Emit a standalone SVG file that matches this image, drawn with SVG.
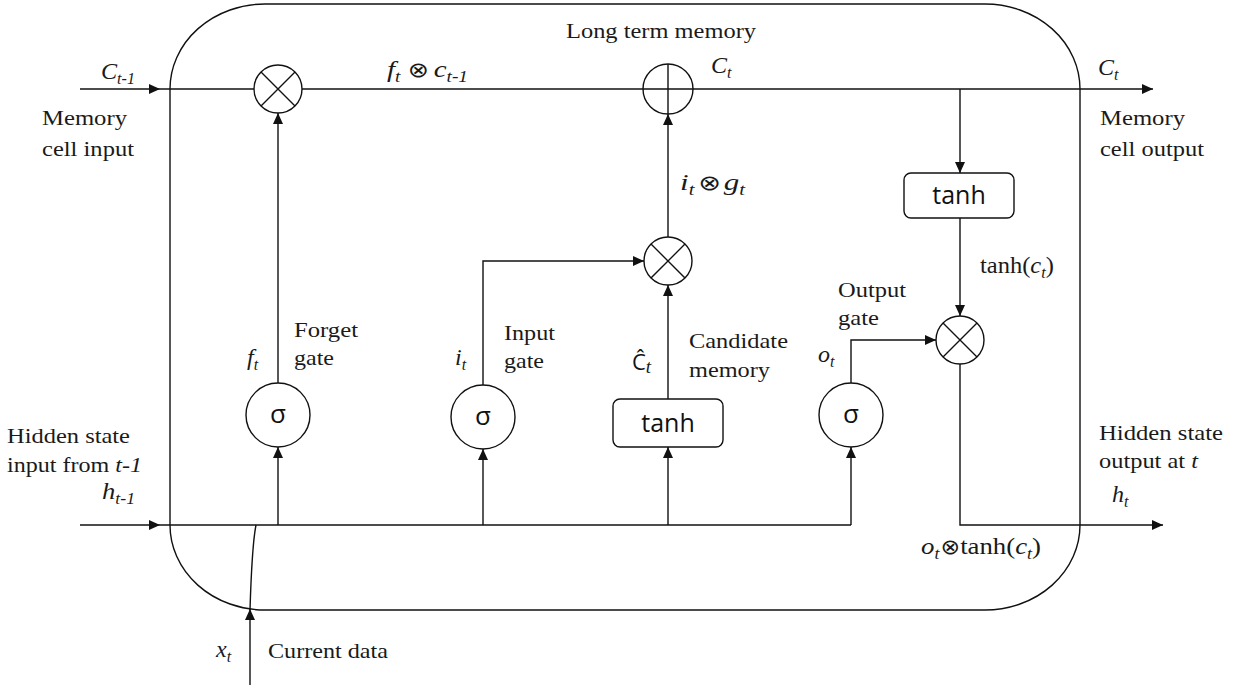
<svg xmlns="http://www.w3.org/2000/svg" width="1234" height="685" viewBox="0 0 1234 685">
<defs>
<marker id="ah" markerUnits="userSpaceOnUse" markerWidth="12" markerHeight="10" refX="11" refY="5" orient="auto">
<path d="M0,0 L11,5 L0,10 Z" fill="#111"/>
</marker>
<style>
.ln{fill:none;stroke:#111;stroke-width:1.4}
.ar{fill:none;stroke:#111;stroke-width:1.4;marker-end:url(#ah)}
.nd{fill:#fff;stroke:#111;stroke-width:1.4}
.w{font-family:"Liberation Serif",serif;font-size:22px;fill:#1a1a1a}
.mi{font-family:"Liberation Serif",serif;font-style:italic;font-size:24px;fill:#1a1a1a}
.up{font-style:normal}
.sub{font-size:16px}
.op{font-family:"DejaVu Sans",sans-serif;font-style:normal;font-size:21px}
.sans{font-family:"Open Sans",sans-serif;fill:#111}
</style>
</defs>
<rect width="1234" height="685" fill="#fff"/>
<g id="cell"><rect x="170" y="4" width="910" height="606" rx="95" ry="85" class="ln"/></g>

<g id="connectors">
<path class="ar" d="M80,89 H160"/>
<path class="ln" d="M160,89 H254"/>
<path class="ln" d="M302,89 H643"/>
<path class="ar" d="M693,89 H1153"/>
<path class="ar" d="M960,89 V173"/>
<path class="ar" d="M960,218 V316"/>
<path class="ar" d="M80,525 H160"/>
<path class="ln" d="M160,525 H851"/>
<path class="ar" d="M278,525 V447"/>
<path class="ar" d="M278,383 V113"/>
<path class="ar" d="M483,525 V449"/>
<path class="ar" d="M483,385 V261 H644"/>
<path class="ar" d="M668,525 V447"/>
<path class="ar" d="M668,399 V285"/>
<path class="ar" d="M668,237 V114"/>
<path class="ar" d="M851,525 V447"/>
<path class="ar" d="M851,383 V340 H936"/>
<path class="ar" d="M960,364 V525 H1163"/>
<path class="ar" d="M250,685 V609"/>
<path class="ln" d="M250,610 Q252,545 256,525"/>
</g>

<g id="mult-forget">
<circle cx="278" cy="89" r="24" class="nd"/>
<path class="ln" d="M261,72 L295,106 M295,72 L261,106"/>
</g>
<g id="add-memory">
<circle cx="668" cy="89" r="25" class="nd"/>
<path class="ln" d="M668,64 V114 M643,89 H693"/>
</g>
<g id="mult-input">
<circle cx="668" cy="261" r="24" class="nd"/>
<path class="ln" d="M651,244 L685,278 M685,244 L651,278"/>
</g>
<g id="mult-output">
<circle cx="960" cy="340" r="24" class="nd"/>
<path class="ln" d="M943,323 L977,357 M977,323 L943,357"/>
</g>
<g id="tanh-out">
<rect x="904" y="173" width="110" height="45" rx="7" class="nd"/>
<text x="959" y="204" class="sans" font-size="25" text-anchor="middle">tanh</text>
</g>
<g id="tanh-cand">
<rect x="613" y="399" width="110" height="48" rx="7" class="nd"/>
<text x="668" y="432" class="sans" font-size="25" text-anchor="middle">tanh</text>
</g>
<g id="sigma-forget">
<circle cx="278" cy="415" r="32" class="nd"/>
<text x="278" y="423" class="sans" font-size="26" text-anchor="middle">σ</text>
</g>
<g id="sigma-input">
<circle cx="483" cy="417" r="32" class="nd"/>
<text x="483" y="425" class="sans" font-size="26" text-anchor="middle">σ</text>
</g>
<g id="sigma-output">
<circle cx="851" cy="415" r="32" class="nd"/>
<text x="851" y="423" class="sans" font-size="26" text-anchor="middle">σ</text>
</g>

<g id="labels">
<text x="101" y="79" class="mi" textLength="34" lengthAdjust="spacingAndGlyphs">C<tspan class="sub" dy="5">t-1</tspan></text>
<text x="42" y="125" class="w" textLength="85" lengthAdjust="spacingAndGlyphs">Memory</text>
<text x="42" y="156" class="w" textLength="92" lengthAdjust="spacingAndGlyphs">cell input</text>
<text x="387" y="77" class="mi" textLength="81" lengthAdjust="spacingAndGlyphs">f<tspan class="sub" dy="5">t</tspan><tspan class="op" dy="-5" dx="6">⊗</tspan><tspan dx="4">c</tspan><tspan class="sub" dy="5">t-1</tspan></text>
<text x="566" y="38" class="w" textLength="190" lengthAdjust="spacingAndGlyphs">Long term memory</text>
<text x="711" y="73" class="mi">C<tspan class="sub" dy="5">t</tspan></text>
<text x="1098" y="75" class="mi">C<tspan class="sub" dy="5">t</tspan></text>
<text x="1100" y="125" class="w" textLength="85" lengthAdjust="spacingAndGlyphs">Memory</text>
<text x="1100" y="156" class="w" textLength="104" lengthAdjust="spacingAndGlyphs">cell output</text>
<text x="680" y="190" class="mi" textLength="65" lengthAdjust="spacingAndGlyphs">i<tspan class="sub" dy="5">t</tspan><tspan class="op" dy="-5" dx="3">⊗</tspan><tspan dx="2">g</tspan><tspan class="sub" dy="5">t</tspan></text>
<text x="980" y="273" class="mi" textLength="74" lengthAdjust="spacingAndGlyphs"><tspan class="up">tanh(</tspan>c<tspan class="sub" dy="5">t</tspan><tspan class="up" dy="-5">)</tspan></text>
<text x="838" y="297" class="w" textLength="68" lengthAdjust="spacingAndGlyphs">Output</text>
<text x="838" y="325" class="w" textLength="41" lengthAdjust="spacingAndGlyphs">gate</text>
<text x="818" y="362" class="mi">o<tspan class="sub" dy="5">t</tspan></text>
<text x="294" y="337" class="w" textLength="64" lengthAdjust="spacingAndGlyphs">Forget</text>
<text x="294" y="365" class="w" textLength="40" lengthAdjust="spacingAndGlyphs">gate</text>
<text x="247" y="365" class="mi">f<tspan class="sub" dy="5">t</tspan></text>
<text x="504" y="340" class="w" textLength="51" lengthAdjust="spacingAndGlyphs">Input</text>
<text x="504" y="368" class="w" textLength="40" lengthAdjust="spacingAndGlyphs">gate</text>
<text x="455" y="365" class="mi">i<tspan class="sub" dy="5">t</tspan></text>
<text x="632" y="370" class="mi"><tspan class="sans" style="font-style:normal" font-size="22">Ĉ</tspan><tspan font-size="19" dy="3">t</tspan></text>
<text x="689" y="348" class="w" textLength="99" lengthAdjust="spacingAndGlyphs">Candidate</text>
<text x="689" y="377" class="w" textLength="81" lengthAdjust="spacingAndGlyphs">memory</text>
<text x="7" y="443" class="w" textLength="123" lengthAdjust="spacingAndGlyphs">Hidden state</text>
<text x="7" y="472" class="w" textLength="135" lengthAdjust="spacingAndGlyphs">input from <tspan font-style="italic">t-1</tspan></text>
<text x="102" y="499" class="mi" textLength="33" lengthAdjust="spacingAndGlyphs">h<tspan class="sub" dy="5">t-1</tspan></text>
<text x="216" y="657" class="mi">x<tspan class="sub" dy="5">t</tspan></text>
<text x="268" y="658" class="w" textLength="120" lengthAdjust="spacingAndGlyphs">Current data</text>
<text x="1099" y="440" class="w" textLength="124" lengthAdjust="spacingAndGlyphs">Hidden state</text>
<text x="1099" y="468" class="w" textLength="99" lengthAdjust="spacingAndGlyphs">output at <tspan font-style="italic">t</tspan></text>
<text x="1112" y="502" class="mi">h<tspan class="sub" dy="5">t</tspan></text>
<text x="921" y="554" class="mi" textLength="120" lengthAdjust="spacingAndGlyphs">o<tspan class="sub" dy="5">t</tspan><tspan class="op" dy="-5" dx="1">⊗</tspan><tspan class="up">tanh(</tspan>c<tspan class="sub" dy="5">t</tspan><tspan class="up" dy="-5">)</tspan></text>
</g>
</svg>
